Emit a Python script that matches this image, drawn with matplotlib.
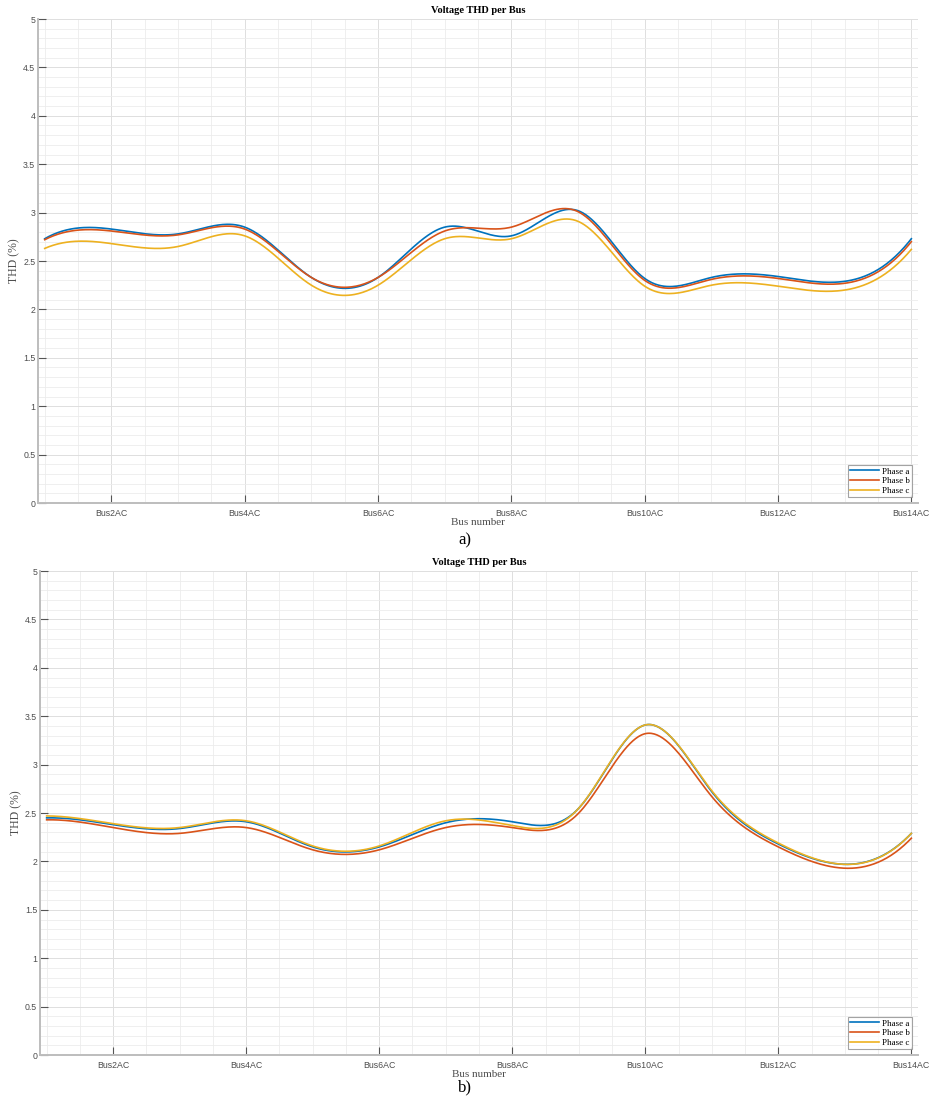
import numpy as np
import matplotlib
matplotlib.use("Agg")
import matplotlib.pyplot as plt
from matplotlib.ticker import MultipleLocator, FuncFormatter

# bus index 1..14, THD (%) per phase
buses = np.arange(1, 15)
tick_buses = [2, 4, 6, 8, 10, 12, 14]
tick_labels = ["Bus%dAC" % b for b in tick_buses]
phases = ["Phase a", "Phase b", "Phase c"]

# a) case
thd_a_a = [2.73, 2.83, 2.78, 2.85, 2.33, 2.33, 2.85, 2.76, 3.02, 2.32, 2.33, 2.34, 2.29, 2.73]
thd_a_b = [2.72, 2.81, 2.77, 2.83, 2.33, 2.33, 2.81, 2.85, 3.01, 2.30, 2.31, 2.32, 2.27, 2.70]
thd_a_c = [2.63, 2.68, 2.65, 2.76, 2.25, 2.25, 2.73, 2.73, 2.91, 2.24, 2.25, 2.24, 2.20, 2.62]

# b) case
thd_b_a = [2.45, 2.38, 2.34, 2.41, 2.15, 2.15, 2.40, 2.41, 2.55, 3.41, 2.72, 2.18, 1.97, 2.29]
thd_b_b = [2.43, 2.35, 2.29, 2.35, 2.12, 2.12, 2.35, 2.35, 2.50, 3.32, 2.67, 2.15, 1.93, 2.24]
thd_b_c = [2.47, 2.39, 2.35, 2.42, 2.16, 2.16, 2.42, 2.37, 2.55, 3.41, 2.73, 2.19, 1.97, 2.29]

colors = ["#0072BD", "#D95319", "#EDB120"]


def spline(x, y, xs):
    # not-a-knot cubic spline, unit spacing (like matlab spline)
    y = np.asarray(y, float)
    n = len(y)
    A = np.zeros((n, n))
    r = np.zeros(n)
    A[0, :3] = [1, -2, 1]
    A[-1, -3:] = [1, -2, 1]
    for i in range(1, n - 1):
        A[i, i - 1:i + 2] = [1, 4, 1]
        r[i] = 6 * (y[i - 1] - 2 * y[i] + y[i + 1])
    M = np.linalg.solve(A, r)
    i = np.clip(np.floor(xs - x[0]).astype(int), 0, n - 2)
    t = xs - x[i]
    return ((1 - t) * y[i] + t * y[i + 1]
            + ((1 - t) ** 3 - (1 - t)) * M[i] / 6 + (t ** 3 - t) * M[i + 1] / 6)


fig = plt.figure(figsize=(9.3, 10.99), dpi=100)
ax1 = fig.add_axes([0.0409, 0.5423, 0.9462, 0.4404])
ax2 = fig.add_axes([0.0430, 0.0400, 0.9441, 0.4404])

xs = np.linspace(1, 14, 600)
for ax, series in [(ax1, [thd_a_a, thd_a_b, thd_a_c]),
                   (ax2, [thd_b_a, thd_b_b, thd_b_c])]:
    for s, c, name in zip(series, colors, phases):
        ax.plot(xs, spline(buses, s, xs), color=c, lw=1.2, label=name)
    ax.set_xlim(0.9, 14.1)
    ax.set_ylim(0, 5)
    ax.set_xticks(tick_buses)
    ax.set_xticklabels(tick_labels)
    ax.xaxis.set_minor_locator(MultipleLocator(0.5))
    ax.yaxis.set_major_locator(MultipleLocator(0.5))
    ax.yaxis.set_minor_locator(MultipleLocator(0.1))
    ax.yaxis.set_major_formatter(FuncFormatter(lambda v, p: "%g" % round(v, 2)))
    ax.grid(which="major", color="#dedede", lw=0.7)
    ax.grid(which="minor", color="#ececec", lw=0.6)
    ax.set_axisbelow(True)
    for sp in ["top", "right"]:
        ax.spines[sp].set_visible(False)
    for sp in ["left", "bottom"]:
        ax.spines[sp].set_color("#bdbdbd")
        ax.spines[sp].set_linewidth(1.4)
    ax.tick_params(which="major", direction="in", length=6, width=0.8,
                   color="#555555", labelsize=6.3, labelcolor="#4d4d4d")
    ax.tick_params(axis="x", pad=4)
    ax.tick_params(axis="y", pad=2)
    ax.tick_params(which="minor", length=0)
    for t in ax.get_xticklabels() + ax.get_yticklabels():
        t.set_family("Liberation Sans")
    ax.set_title("Voltage THD per Bus", family="Liberation Serif",
                 fontweight="bold", fontsize=7.5, pad=4)
    ax.set_xlabel("Bus number", family="Liberation Serif", fontsize=8,
                  color="#4d4d4d", labelpad=0)
    ax.set_ylabel("THD (%)", family="Liberation Serif", fontsize=8.5,
                  color="#4d4d4d", labelpad=2)
    leg = ax.legend(loc="lower right", bbox_to_anchor=(0.993, 0.012),
                    prop={"family": "Liberation Serif", "size": 6.5},
                    frameon=True, fancybox=False, handlelength=3.2,
                    handletextpad=0.3, borderpad=0.25, labelspacing=0.15,
                    borderaxespad=0)
    leg.get_frame().set_edgecolor("#8c8c8c")
    leg.get_frame().set_linewidth(0.8)

fig.text(0.5, 0.5080, "a)", ha="center", va="center",
         family="Liberation Serif", fontsize=12)
fig.text(0.5, 0.0110, "b)", ha="center", va="center",
         family="Liberation Serif", fontsize=12)

fig.savefig("out.png", dpi=100)
